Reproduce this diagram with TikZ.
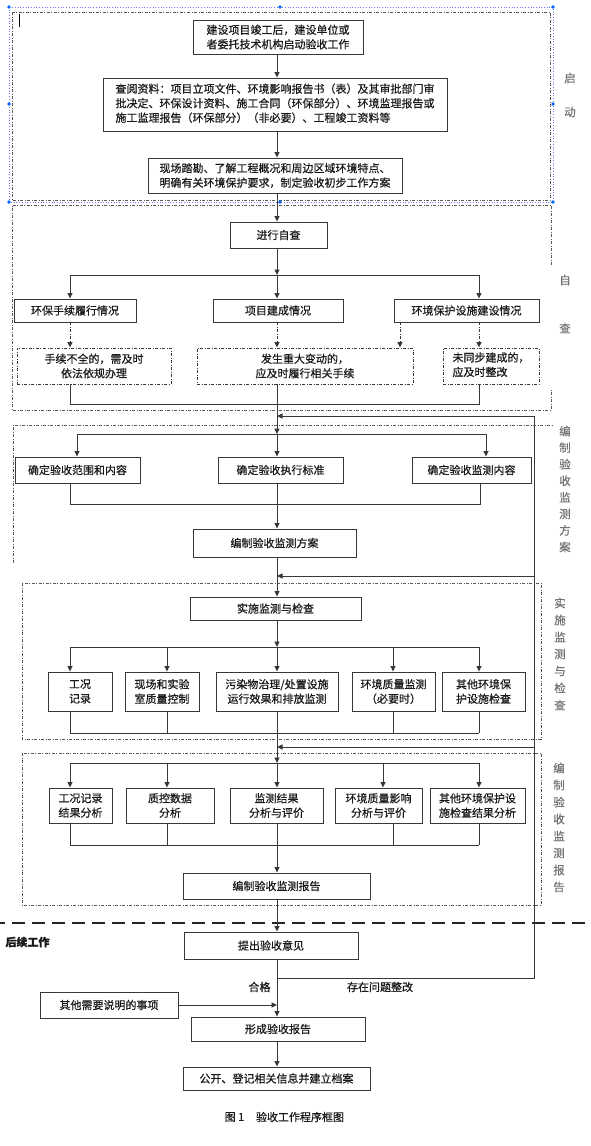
\documentclass[tikz,border=0pt]{standalone}
\usepackage{fontspec}
\setmainfont{Noto Sans CJK SC}[RawFeature={embolden=0.6}]
\usetikzlibrary{arrows.meta}
\begin{document}
\begin{tikzpicture}[x=1pt,y=-1pt,
  font=\fontsize{11}{14.5}\selectfont,
  box/.style={draw=black!78, line width=0.9pt, align=center, inner sep=0pt, text=black!90},
  dbox/.style={box, dash pattern=on 3pt off 1.5pt on 1pt off 1.5pt},
  ln/.style={draw=black!78, line width=0.9pt},
  arr/.style={ln, -{Triangle[length=5.5pt,width=5pt]}},
  darr/.style={arr, dash pattern=on 3pt off 1.5pt on 1pt off 1.5pt},
  frm/.style={draw=black!65, line width=0.7pt, dash pattern=on 3pt off 1.5pt on 1pt off 1.5pt},
  side/.style={text=black!55, inner sep=0pt, font=\fontsize{11.5}{13}\selectfont},
  lbl/.style={inner sep=0pt, text=black!90}
]
\useasboundingbox (0,0) rectangle (590,1146);

% ---------- frames ----------
\draw[frm] (12,12) rectangle (550,200);
\draw[blue!55, dotted, line width=0.7pt] (9,7) rectangle (553,202);
\foreach \p in {(9,7),(280,7),(553,7),(9,104),(553,104),(9,202),(280,202),(553,202)}
  \fill[blue!60!cyan] \p circle (1.8pt);
\draw[line width=1pt] (19.6,14) -- (19.6,27);

\draw[frm] (551,265) -- (551,205) -- (12,205) -- (12,410) -- (551,410) -- (551,390);
\draw[frm] (13,563) -- (13,425) -- (553,425);
\draw[frm] (22,583) rectangle (541,739);
\draw[frm] (22,753) rectangle (541,905);
\draw[black!85, line width=2.4pt, dash pattern=on 13pt off 7pt, dash phase=8pt] (0,923) -- (590,923);

% ---------- side labels ----------
\node[side] (s1) at (570,78) {启};
\node[side] (s2) at (570,112) {动};
\node[side] (s3) at (565,280) {自};
\node[side] (s4) at (565,328) {查};
\foreach \c [count=\i from 0] in {编,制,验,收,监,测,方,案}
  \node[side] (pa\i) at (565,431+16.57*\i) {\c};
\foreach \c [count=\i from 0] in {实,施,监,测,与,检,查}
  \node[side] (pb\i) at (560,603+17*\i) {\c};
\foreach \c [count=\i from 0] in {编,制,验,收,监,测,报,告}
  \node[side] (pc\i) at (559,768+17*\i) {\c};

% ---------- start ----------
\coordinate (mx) at (277,0);
\node[box, minimum width=170pt, minimum height=34pt] (b1) at (278,37) {建设项目竣工后，建设单位或\\者委托技术机构启动验收工作};
\node[box, minimum width=344pt, minimum height=53pt] (b2) at (275,104.5) {\begin{tabular}{@{}l@{}}查阅资料：项目立项文件、环境影响报告书（表）及其审批部门审\\批决定、环保设计资料、施工合同（环保部分）、环境监理报告或\\施工监理报告（环保部分）（非必要）、工程竣工资料等\end{tabular}};
\node[box, minimum width=254pt, minimum height=35pt] (b3) at (275,175.5) {现场踏勘、了解工程概况和周边区域环境特点、\\明确有关环境保护要求，制定验收初步工作方案};

% ---------- self check ----------
\node[box, minimum width=97pt, minimum height=26pt] (zc) at (278.5,235) {进行自查};
\node[box, minimum width=122pt, minimum height=23pt] (sA) at (75,310.5) {环保手续履行情况};
\node[box, minimum width=130pt, minimum height=23pt] (sB) at (278,310.5) {项目建成情况};
\node[box, minimum width=145pt, minimum height=23pt] (sC) at (466.5,310.5) {环境保护设施建设情况};
\node[dbox, minimum width=154pt, minimum height=36pt] (dA) at (94,366) {手续不全的，需及时\\依法依规办理};
\node[dbox, minimum width=216pt, minimum height=36pt] (dB) at (305,366) {发生重大变动的，\\应及时履行相关手续};
\node[dbox, minimum width=96pt, minimum height=36pt] (dC) at (491,366) {\begin{tabular}{@{}l@{}}未同步建成的，\\应及时整改\end{tabular}};

% ---------- plan ----------
\node[box, minimum width=125pt, minimum height=26pt] (cA) at (77.5,470) {确定验收范围和内容};
\node[box, minimum width=125pt, minimum height=26pt] (cB) at (280.5,470) {确定验收执行标准};
\node[box, minimum width=119pt, minimum height=26pt] (cC) at (471.5,470) {确定验收监测内容};
\node[box, minimum width=163pt, minimum height=28pt] (cD) at (274.5,543) {编制验收监测方案};

% ---------- implement ----------
\node[box, minimum width=171pt, minimum height=23pt] (iA) at (275.5,608.5) {实施监测与检查};
\node[box, minimum width=64pt, minimum height=39pt] (i1) at (80,691.5) {工况\\记录};
\node[box, minimum width=74pt, minimum height=39pt] (i2) at (162,691.5) {现场和实验\\室质量控制};
\node[box, minimum width=122pt, minimum height=39pt] (i3) at (277,691.5) {污染物治理/处置设施\\运行效果和排放监测};
\node[box, minimum width=83pt, minimum height=39pt] (i4) at (393.5,691.5) {环境质量监测\\（必要时）};
\node[box, minimum width=83pt, minimum height=39pt] (i5) at (483.5,691.5) {其他环境保\\护设施检查};

% ---------- report ----------
\node[box, minimum width=63pt, minimum height=35pt] (r1) at (80.5,805.5) {工况记录\\结果分析};
\node[box, minimum width=88pt, minimum height=35pt] (r2) at (170,805.5) {质控数据\\分析};
\node[box, minimum width=93pt, minimum height=35pt] (r3) at (276.5,805.5) {监测结果\\分析与评价};
\node[box, minimum width=87pt, minimum height=35pt] (r4) at (378.5,805.5) {环境质量影响\\分析与评价};
\node[box, minimum width=95pt, minimum height=35pt] (r5) at (477.5,805.5) {其他环境保护设\\施检查结果分析};
\node[box, minimum width=187pt, minimum height=26pt] (rR) at (276.5,886) {编制验收监测报告};

% ---------- follow-up ----------
\node[lbl, font=\fontsize{11}{13}\selectfont\bfseries] (hx) at (27.5,942) {后续工作};
\node[box, minimum width=174pt, minimum height=27pt] (f1) at (271,945.5) {提出验收意见};
\node[box, minimum width=138pt, minimum height=26pt] (f2) at (109,1005) {其他需要说明的事项};
\node[box, minimum width=174pt, minimum height=24pt] (f3) at (278,1029) {形成验收报告};
\node[box, minimum width=187pt, minimum height=23pt] (f4) at (276.5,1078.5) {公开、登记相关信息并建立档案};
\node[lbl] (hg) at (259.5,987) {合格};
\node[lbl] (wt) at (380,987) {存在问题整改};
\node[lbl] (cap1) at (234.5,1117) {图 1};
\node[lbl] (cap2) at (300,1117) {验收工作程序框图};

% ---------- connectors: start ----------
\draw[arr] (b1.south -| mx) -- (b2.north -| mx);
\draw[arr] (b2.south -| mx) -- (b3.north -| mx);
\draw[arr] (b3.south -| mx) -- (zc.north -| mx);

% self check
\coordinate (k1) at (277,275);
\coordinate (k1L) at (70,275);
\coordinate (k1R) at (479,275);
\coordinate (kc) at (400,0);
\draw[arr] (zc.south -| mx) -- (k1);
\draw[ln] (k1L) -- (k1R);
\draw[arr] (k1L) -- (k1L |- sA.north);
\draw[arr] (k1) -- (k1 |- sB.north);
\draw[arr] (k1R) -- (k1R |- sC.north);
\draw[darr] (k1L |- sA.south) -- (k1L |- dA.north);
\draw[darr] (mx |- sB.south) -- (mx |- dB.north);
\draw[darr] (kc |- sC.south) -- (kc |- dB.north);
\draw[darr] (k1R |- sC.south) -- (k1R |- dC.north);
\draw[ln] (k1L |- dA.south) -- (70,404) -- (479,404) -- (k1R |- dC.south);

% plan
\coordinate (k2) at (277,434);
\coordinate (k2L) at (77,434);
\coordinate (k2R) at (486,434);
\draw[arr] (mx |- dB.south) -- (k2);
\draw[ln] (k2L) -- (k2R);
\draw[arr] (k2L) -- (k2L |- cA.north);
\draw[arr] (k2) -- (k2 |- cB.north);
\draw[arr] (k2R) -- (k2R |- cC.north);
\coordinate (j2L) at (70,504);
\coordinate (j2R) at (480,504);
\draw[ln] (j2L |- cA.south) -- (j2L) -- (j2R) -- (j2R |- cC.south);
\draw[arr] (mx |- cB.south) -- (mx |- cD.north);

% implement
\draw[arr] (mx |- cD.south) -- (mx |- iA.north);
\coordinate (k4) at (277,647);
\draw[arr] (mx |- iA.south) -- (k4);
\draw[ln] (70,647) -- (479,647);
\foreach \xx/\nn in {70/i1,167/i2,277/i3,393/i4,479/i5}{
  \draw[arr] (\xx,647) -- (\nn.north -| {(\xx,0)});
}
\draw[ln] (70,733) -- (479,733);
\foreach \xx/\nn in {70/i1,167/i2,393/i4,479/i5}{
  \draw[ln] (\nn.south -| {(\xx,0)}) -- (\xx,733);
}

% report
\coordinate (k5) at (277,763);
\draw[arr] (mx |- i3.south) -- (k5);
\draw[ln] (70,763) -- (479,763);
\foreach \xx/\nn in {70/r1,167/r2,277/r3,383/r4,479/r5}{
  \draw[arr] (\xx,763) -- (\nn.north -| {(\xx,0)});
}
\draw[ln] (70,845) -- (479,845);
\foreach \xx/\nn in {70/r1,167/r2,393/r4,479/r5}{
  \draw[ln] (\nn.south -| {(\xx,0)}) -- (\xx,845);
}
\draw[arr] (mx |- r3.south) -- (mx |- rR.north);

% follow-up
\draw[arr] (mx |- rR.south) -- (mx |- f1.north);
\draw[arr] (mx |- f1.south) -- (mx |- f3.north);
\coordinate (fb) at (534,978);
\draw[ln] (277,978) -- (fb) -- (534,416);
\draw[arr] (534,416) -- (277,416);
\draw[arr] (534,576) -- (277,576);
\draw[arr] (534,747) -- (277,747);
\draw[arr] (f2.east) -- (f2.east -| mx);
\draw[arr] (mx |- f3.south) -- (mx |- f4.north);
\end{tikzpicture}
\end{document}
